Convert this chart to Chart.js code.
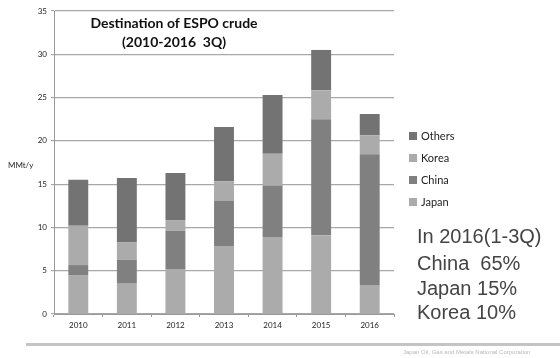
<!DOCTYPE html>
<html>
<head>
<meta charset="utf-8">
<script src="https://cdn.jsdelivr.net/npm/chart.js@4.4.1/dist/chart.umd.min.js"></script>
<style>
  html, body { margin: 0; padding: 0; background: #fff; }
  #wrap { position: relative; width: 560px; height: 358px; }
  canvas { display: block; }
</style>
</head>
<body>
<div id="wrap"><canvas id="c" width="560" height="358"></canvas></div>
<script>
// ---- data ----
const years = ['2010', '2011', '2012', '2013', '2014', '2015', '2016'];
const japan  = [4.5, 3.5, 5.2, 7.85, 8.9, 9.1, 3.35];
const china  = [1.15, 2.75, 4.4, 5.2, 5.9, 13.4, 15.1];
const korea  = [4.55, 2.05, 1.25, 2.3, 3.7, 3.35, 2.2];
const others = [5.3, 7.4, 5.45, 6.25, 6.8, 4.65, 2.45];
const yTicks = [0, 5, 10, 15, 20, 25, 30, 35];
const titleLines = ['Destination of ESPO crude', '(2010-2016  3Q)'];
const noteLines = ['In 2016(1-3Q)', 'China  65%', 'Japan 15%', 'Korea 10%'];
const unitLabel = 'MMt/y';
const sourceText = 'Japan Oil, Gas and Metals National Corporation';

const colors = { japan: '#ababab', china: '#808080', korea: '#ababab', others: '#737373' };

const overlay = {
  id: 'overlay',
  afterDraw(chart) {
    const ctx = chart.ctx;
    const ca = chart.chartArea;
    ctx.save();
    // title inside plot
    ctx.fillStyle = '#111';
    ctx.font = 'bold 14px Lato, "Open Sans", sans-serif';
    ctx.textAlign = 'center';
    ctx.textBaseline = 'middle';
    ctx.fillText(titleLines[0], 174, 23);
    ctx.fillText(titleLines[1], 174, 42);
    // unit label
    ctx.font = '8px Lato, "Open Sans", sans-serif';
    ctx.fillStyle = '#222';
    ctx.textAlign = 'left';
    ctx.fillText(unitLabel, 8, 165);
    // legend (reverse order)
    const ds = chart.data.datasets;
    const lx = 409, ly0 = 136, step = 22;
    ctx.font = '11px Lato, "Open Sans", sans-serif';
    for (let i = ds.length - 1, k = 0; i >= 0; i--, k++) {
      const y = ly0 + k * step;
      ctx.fillStyle = ds[i].backgroundColor;
      ctx.fillRect(lx, y - 4, 8, 8);
      ctx.fillStyle = '#222';
      ctx.textAlign = 'left';
      ctx.fillText(ds[i].label, lx + 12, y + 0.5);
    }
    // note text
    ctx.font = '20px "Liberation Sans", Arial, sans-serif';
    ctx.fillStyle = '#444';
    const ny = [237, 264, 289, 313];
    noteLines.forEach((t, i) => ctx.fillText(t, 417, ny[i]));
    // bottom rule
    ctx.fillStyle = '#c4c4c4';
    ctx.fillRect(26, 343, 534, 3);
    // source text
    ctx.font = '6px "Liberation Sans", Arial, sans-serif';
    ctx.fillStyle = '#b8b8b8';
    ctx.textAlign = 'left';
    ctx.fillText(sourceText, 403, 352);
    ctx.restore();
  }
};

new Chart(document.getElementById('c'), {
  type: 'bar',
  data: {
    labels: years,
    datasets: [
      { label: 'Japan',  data: japan,  backgroundColor: colors.japan },
      { label: 'China',  data: china,  backgroundColor: colors.china },
      { label: 'Korea',  data: korea,  backgroundColor: colors.korea },
      { label: 'Others', data: others, backgroundColor: colors.others }
    ]
  },
  options: {
    responsive: false,
    animation: false,
    devicePixelRatio: 1,
    layout: { padding: { left: 0, right: 166, top: 11, bottom: 0 } },
    datasets: { bar: { barPercentage: 0.41, categoryPercentage: 1.0 } },
    plugins: { legend: { display: false }, tooltip: { enabled: false }, title: { display: false } },
    scales: {
      x: {
        stacked: true,
        offset: true,
        grid: { display: true, drawOnChartArea: false, drawTicks: true, tickLength: 3, color: '#999', offset: true },
        border: { display: true, color: '#999', width: 1 },
        ticks: { color: '#222', font: { size: 8, family: 'Lato, "Open Sans", sans-serif' }, padding: 4, maxRotation: 0 },
        afterFit(s) { s.height = 44; }
      },
      y: {
        stacked: true,
        min: 0, max: 35,
        afterBuildTicks(s) { s.ticks = yTicks.map(v => ({ value: v })); },
        grid: { color: '#a8a8a8', lineWidth: 1.2, drawTicks: true, tickLength: 3 },
        border: { display: true, color: '#999', width: 1 },
        ticks: { color: '#222', font: { size: 8, family: 'Lato, "Open Sans", sans-serif' }, padding: 4 },
        afterFit(s) { s.width = 54; }
      }
    }
  },
  plugins: [overlay]
});
</script>
</body>
</html>
